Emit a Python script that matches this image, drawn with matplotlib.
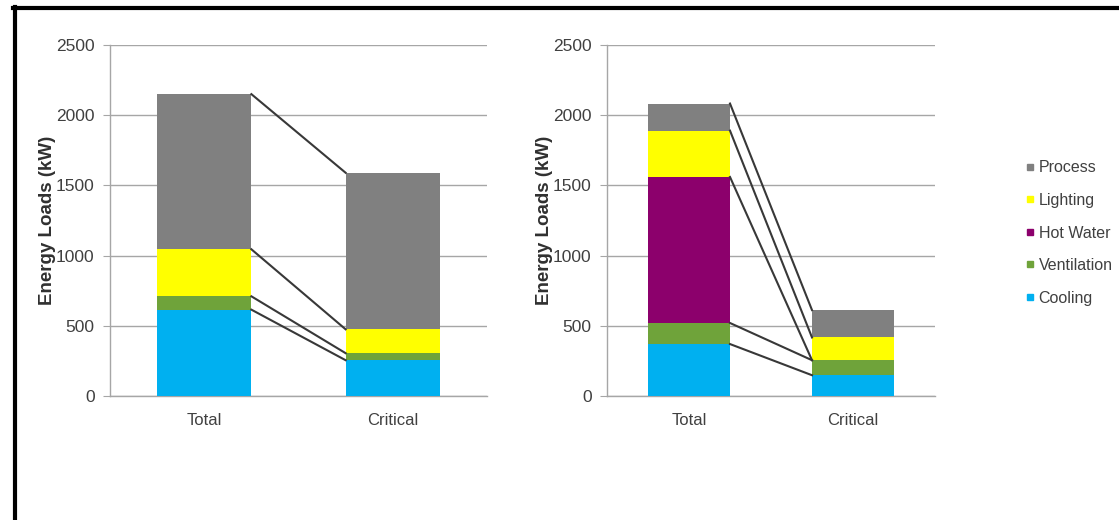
import numpy as np
import matplotlib.pyplot as plt
from matplotlib.lines import Line2D

plt.rcParams["font.family"] = ["Liberation Sans", "DejaVu Sans"]

categories = ["Total", "Critical"]

# left building: Cooling, Ventilation, Lighting, Process (kW)
left_loads = {
    "Cooling": [615, 255],
    "Ventilation": [95, 50],
    "Lighting": [335, 170],
    "Process": [1105, 1115],
}

# right building: Cooling, Ventilation, Hot Water, Lighting, Process (kW)
right_loads = {
    "Cooling": [370, 148],
    "Ventilation": [150, 107],
    "Hot Water": [1040, 0],
    "Lighting": [330, 162],
    "Process": [193, 195],
}

colors = {
    "Cooling": "#00B0F0",
    "Ventilation": "#6FA33A",
    "Hot Water": "#8C006C",
    "Lighting": "#FFFF00",
    "Process": "#808080",
}
legend_order = ["Process", "Lighting", "Hot Water", "Ventilation", "Cooling"]

W, H = 1119, 520
fig = plt.figure(figsize=(W / 100, H / 100), dpi=100)

grid_col = "#A6A6A6"
text_col = "#404040"
bar_w = 0.5


def stacked(ax, loads):
    x = np.arange(len(categories))
    bottom = np.zeros(len(categories))
    tops = []
    for name, vals in loads.items():
        vals = np.array(vals, dtype=float)
        ax.bar(x, vals, bar_w, bottom=bottom, color=colors[name],
               edgecolor="none", zorder=3)
        bottom = bottom + vals
        tops.append(bottom.copy())
    # connectors between matching segment tops
    for t in tops:
        ax.plot([x[0] + bar_w / 2, x[1] - bar_w / 2], [t[0], t[1]],
                color="#383838", lw=1.5, zorder=4)
    ax.set_xlim(-0.5, 1.5)
    ax.set_ylim(0, 2500)
    ax.set_yticks(np.arange(0, 2501, 500))
    ax.set_xticks(x)
    ax.set_xticklabels(categories)
    ax.yaxis.grid(True, color=grid_col, lw=1.0, zorder=0)
    for s in ["top", "right"]:
        ax.spines[s].set_visible(False)
    for s in ["left", "bottom"]:
        ax.spines[s].set_color(grid_col)
        ax.spines[s].set_linewidth(1.0)
    ax.tick_params(axis="y", length=5, color=grid_col, pad=6,
                   labelsize=12.5, labelcolor=text_col)
    ax.tick_params(axis="x", length=0, pad=12, labelsize=12,
                   labelcolor=text_col)
    ax.set_ylabel("Energy Loads (kW)", fontsize=13.5, fontweight="bold",
                  color="#303030", labelpad=0)


ax1 = fig.add_axes([110 / W, 124 / H, 377 / W, 351 / H])
stacked(ax1, left_loads)

ax2 = fig.add_axes([607 / W, 124 / H, 328 / W, 351 / H])
stacked(ax2, right_loads)

handles = [Line2D([], [], marker="s", ls="none", markersize=5,
                  color=colors[n]) for n in legend_order]
fig.legend(handles, legend_order, loc="center left",
           bbox_to_anchor=(1017 / W, 1 - 233 / H), frameon=False,
           fontsize=11.5, labelcolor=text_col, handlelength=0.6,
           handletextpad=0.25, labelspacing=1.1, borderpad=0)

# frame lines along the top and left edge
fig.add_artist(Line2D([13 / W, 1], [1 - 8 / H, 1 - 8 / H], color="black",
                      lw=3, transform=fig.transFigure))
fig.add_artist(Line2D([15 / W, 15 / W], [0, 1 - 6.5 / H], color="black",
                      lw=3, transform=fig.transFigure))

fig.savefig("out.png", dpi=100)
